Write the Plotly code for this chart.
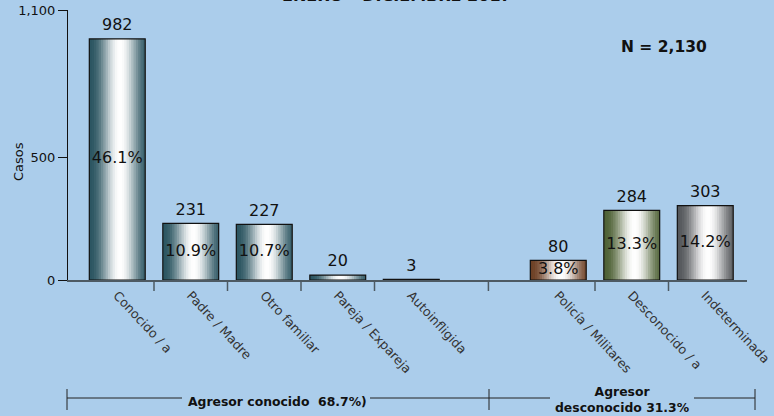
import plotly.graph_objects as go
import math

# ---------------- data ----------------
categories = ["Conocido / a", "Padre / Madre", "Otro familiar", "Pareja / Expareja",
              "Autoinfligida", "Policía / Militares", "Desconocido / a", "Indeterminada"]
casos = [982, 231, 227, 20, 3, 80, 284, 303]
porcentajes = ["46.1%", "10.9%", "10.7%", "", "", "3.8%", "13.3%", "14.2%"]
grupo = ["conocido"] * 5 + ["desconocido"] * 3
y_ticks = [0, 500, 1100]
y_ticklabels = ["0", "500", "1,100"]
titulo = "ENERO – DICIEMBRE 2017"
total_label = "N = 2,130"
grupo_conocido_label = "Agresor conocido  68.7%)"
grupo_desconocido_label = "Agresor<br>desconocido 31.3%"

# ---------------- styling ----------------
BG = "#abcdeb"
FONT = "DejaVu Sans"
edge_colors = ["#2c5662", "#2c5662", "#2c5662", "#2c5662", "#2c5662",
               "#6e4126", "#4f6236", "#55585c"]

# insert a blank spacer slot between the two groups
GAP = " "
x_cats = categories[:5] + [GAP] + categories[5:]
vals = casos[:5] + [None] + casos[5:]
pcts = porcentajes[:5] + [""] + porcentajes[5:]
cols = edge_colors[:5] + ["#000000"] + edge_colors[5:]


def hex2rgb(h):
    h = h.lstrip("#")
    return tuple(int(h[i:i + 2], 16) for i in (0, 2, 4))


def mix(c, s):
    r, g, b = hex2rgb(c)
    return "rgb(%d,%d,%d)" % (r + (255 - r) * s, g + (255 - g) * s, b + (255 - b) * s)


fig = go.Figure()

BW = 0.76
N = 24
step = BW / N
for i in range(N):
    t = (i + 0.5) / N
    s = math.cos((t - 0.55) * math.pi / 1.12) ** 2
    s = s ** 1.2
    fig.add_trace(go.Bar(
        x=x_cats, y=vals,
        offset=-BW / 2 + i * step, width=BW - i * step,
        marker=dict(color=[mix(c, s) for c in cols], line=dict(width=0)),
        hoverinfo="skip", showlegend=False,
    ))

# outline
fig.add_trace(go.Bar(
    x=x_cats, y=vals, offset=-BW / 2, width=BW,
    marker=dict(color="rgba(0,0,0,0)", line=dict(color="#111111", width=1.2)),
    hoverinfo="skip", showlegend=False,
))

# value labels above bars
fig.add_trace(go.Scatter(
    x=x_cats, y=vals, mode="markers+text",
    marker=dict(size=6, opacity=0),
    text=[("" if v is None else str(v)) for v in vals],
    textposition="top center",
    textfont=dict(family=FONT, size=16, color="#111111"),
    hoverinfo="skip", showlegend=False, cliponaxis=False,
))

# percentage labels inside bars
fig.add_trace(go.Scatter(
    x=x_cats, y=[(None if v is None else v / 2) for v in vals], mode="text",
    text=pcts, textposition="middle center",
    textfont=dict(family=FONT, size=16, color="#111111"),
    hoverinfo="skip", showlegend=False, cliponaxis=False,
))

L, R, T, B = 68, 27, 10, 136
W, H = 774, 416
PW, PH = W - L - R, H - T - B


def px(x):
    return (x - L) / PW


def py(y):
    return (H - B - y) / PH


slot = 73.5
x0 = -0.5 - (80.5 - L) / slot
x1 = 8.5 + (W - R - 742) / slot

fig.update_layout(
    width=W, height=H,
    margin=dict(l=L, r=R, t=T, b=B, autoexpand=False),
    paper_bgcolor=BG, plot_bgcolor=BG,
    barmode="overlay",
    font=dict(family=FONT, size=13, color="#222222"),
    xaxis=dict(
        type="category", categoryorder="array", categoryarray=x_cats,
        range=[x0, x1], showgrid=False, zeroline=False, automargin=False,
        showline=True, linecolor="#4d5a63", linewidth=2,
        ticks="", tickangle=47,
        tickvals=categories, ticktext=categories,
        tickfont=dict(family=FONT, size=12.7, color="#333333"),
        ticklabelstandoff=1,
    ),
    yaxis=dict(
        range=[0, 1100], showgrid=False, zeroline=False, automargin=False,
        showline=True, linecolor="#111111", linewidth=1,
        ticks="outside", ticklen=9, tickcolor="#111111",
        tickvals=y_ticks, ticktext=y_ticklabels,
        tickfont=dict(family=FONT, size=13, color="#111111"),
    ),
)

# category boundary ticks (axis decoration)
for xb in [0.5, 1.5, 2.5, 3.5, 5.05, 6.5, 7.5]:
    fig.add_shape(type="line", xref="x", yref="paper", x0=xb, x1=xb,
                  y0=0, y1=py(291), line=dict(color="#4d5a63", width=1.5))

annotations = [
    dict(text="<b>%s</b>" % titulo, x=px(397), y=py(7), xanchor="center", yanchor="bottom",
         font=dict(size=16, color="#111111")),
    dict(text="<b>%s</b>" % total_label, x=px(664), y=py(47), xanchor="center", yanchor="middle",
         font=dict(size=15.5, color="#111111")),
    dict(text="Casos", x=px(19), y=py(162), textangle=-90, xanchor="center", yanchor="middle",
         font=dict(size=13, color="#111111")),
    dict(text="<b>%s</b>" % grupo_conocido_label, x=px(277), y=py(401), xanchor="center",
         yanchor="middle", font=dict(size=12.4, color="#111111")),
    dict(text="<b>%s</b>" % grupo_desconocido_label, x=px(622), y=py(399), xanchor="center",
         yanchor="middle", font=dict(size=12.4, color="#111111")),
]
for a in annotations:
    a.update(xref="paper", yref="paper", showarrow=False)
fig.update_layout(annotations=annotations)

segs = [((67, 398), (182, 398)), ((370, 398), (489, 398)), ((67, 389), (67, 410)),
        ((489, 389), (489, 410)), ((489, 398), (550, 398)), ((694, 398), (755, 398)),
        ((755, 389), (755, 410))]
for (a, b) in segs:
    fig.add_shape(type="line", xref="paper", yref="paper",
                  x0=px(a[0]), y0=py(a[1]), x1=px(b[0]), y1=py(b[1]),
                  line=dict(color="#222222", width=1))

fig.write_html("out.html",
               config={"displayModeBar": False},
               post_script="document.body.style.margin='0px';"
                           "document.body.style.overflow='hidden';")
